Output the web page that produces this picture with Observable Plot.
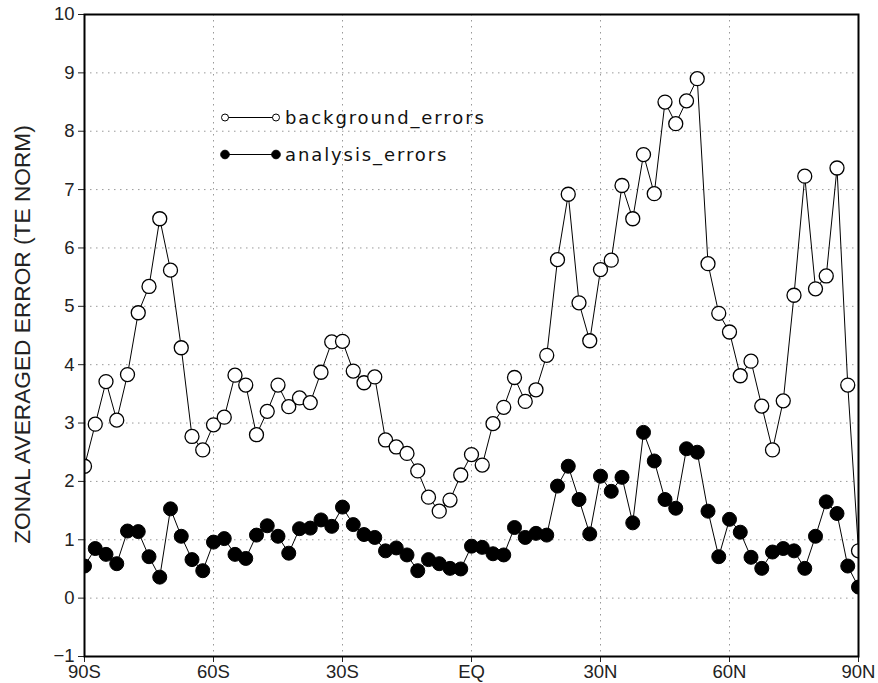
<!DOCTYPE html>
<html><head><meta charset="utf-8">
<script src="https://cdn.jsdelivr.net/npm/d3@7"></script>
<script src="https://cdn.jsdelivr.net/npm/@observablehq/plot@0.6"></script>
<style>body{margin:0;background:#fff}#wrap{position:relative;width:878px;height:683px}</style>
</head><body><div id="wrap"></div>
<script>
const latitudes = [-90,-87.5,-85,-82.5,-80,-77.5,-75,-72.5,-70,-67.5,-65,-62.5,-60,-57.5,-55,-52.5,-50,-47.5,-45,-42.5,-40,-37.5,-35,-32.5,-30,-27.5,-25,-22.5,-20,-17.5,-15,-12.5,-10,-7.5,-5,-2.5,0,2.5,5,7.5,10,12.5,15,17.5,20,22.5,25,27.5,30,32.5,35,37.5,40,42.5,45,47.5,50,52.5,55,57.5,60,62.5,65,67.5,70,72.5,75,77.5,80,82.5,85,87.5,90];
const backgroundErrors = [2.26,2.98,3.71,3.05,3.83,4.89,5.34,6.5,5.62,4.29,2.77,2.54,2.97,3.1,3.82,3.65,2.8,3.2,3.65,3.28,3.43,3.35,3.87,4.39,4.4,3.89,3.69,3.79,2.71,2.59,2.48,2.18,1.73,1.49,1.68,2.11,2.46,2.28,2.99,3.27,3.78,3.37,3.57,4.16,5.8,6.92,5.06,4.41,5.63,5.79,7.07,6.5,7.6,6.93,8.5,8.13,8.52,8.9,5.73,4.88,4.56,3.81,4.06,3.29,2.54,3.38,5.19,7.23,5.3,5.52,7.37,3.65,0.81];
const analysisErrors = [0.55,0.85,0.75,0.59,1.15,1.14,0.71,0.36,1.53,1.06,0.66,0.47,0.96,1.02,0.75,0.68,1.08,1.24,1.06,0.77,1.19,1.2,1.34,1.23,1.56,1.26,1.09,1.04,0.81,0.86,0.74,0.47,0.66,0.59,0.51,0.5,0.89,0.87,0.76,0.74,1.21,1.04,1.11,1.08,1.92,2.26,1.69,1.1,2.09,1.83,2.07,1.29,2.84,2.35,1.69,1.54,2.56,2.5,1.49,0.71,1.35,1.13,0.7,0.51,0.79,0.85,0.81,0.51,1.06,1.65,1.45,0.55,0.19];
const xTicks = [-90,-60,-30,0,30,60,90];
const xTickLabels = ["90S","60S","30S","EQ","30N","60N","90N"];
const yTicks = [-1,0,1,2,3,4,5,6,7,8,9,10];
const seriesNames = ["background_errors","analysis_errors"];
const yTitle = "ZONAL AVERAGED ERROR (TE NORM)";

const bg = latitudes.map((x,i)=>({x, y: backgroundErrors[i]}));
const an = latitudes.map((x,i)=>({x, y: analysisErrors[i]}));

const chart = Plot.plot({
  width: 878, height: 683,
  marginLeft: 84, marginRight: 20, marginTop: 14, marginBottom: 27,
  style: {fontFamily: "Liberation Sans, Arial, sans-serif", fontSize: "18px", color: "#222", background: "#fff"},
  x: {domain: [-90, 90]},
  y: {domain: [-1, 10]},
  marks: [
    Plot.gridX(xTicks.slice(1,-1), {stroke: "#999", strokeOpacity: 1, strokeDasharray: "1.5,4.5"}),
    Plot.gridY(yTicks.slice(1,-1), {stroke: "#999", strokeOpacity: 1, strokeDasharray: "1.5,4.5"}),
    Plot.axisX(xTicks, {tickFormat: d => xTickLabels[xTicks.indexOf(d)], tickSize: 6, tickPadding: 2, label: null, fontSize: 18.5}),
    Plot.axisY(yTicks, {tickFormat: d => d < 0 ? "\u2212" + (-d) : String(d), tickSize: 6, tickPadding: 4, label: null, fontSize: 18.5}),
    Plot.line(bg, {x: "x", y: "y", stroke: "#000", strokeWidth: 1, clip: "frame"}),
    Plot.line(an, {x: "x", y: "y", stroke: "#000", strokeWidth: 1, clip: "frame"}),
    Plot.dot(an, {x: "x", y: "y", r: 7, fill: "#000", stroke: "#000", strokeWidth: 1, clip: "frame"}),
    Plot.dot(bg, {x: "x", y: "y", r: 7, fill: "#fff", stroke: "#000", strokeWidth: 1.3, clip: "frame"}),
    Plot.frame({stroke: "#000", strokeWidth: 2}),
    Plot.text([yTitle], {frameAnchor: "left", textAnchor: "middle", dx: -62, dy: -1, rotate: -90, fontSize: 22.7, fill: "#222", ariaLabel: "ytitle"})
  ]
});
document.getElementById("wrap").appendChild(chart);
const svg = d3.select(chart);

// legend
const leg = svg.append("g").attr("font-family", "DejaVu Sans, sans-serif").attr("font-size", 18).attr("text-anchor", "start");
const rows = [{name: seriesNames[0], y: 117.5, fill: "#fff", r: 3.5}, {name: seriesNames[1], y: 154.5, fill: "#000", r: 4.3}];
rows.forEach(rw => {
  leg.append("line").attr("x1", 226).attr("x2", 275).attr("y1", rw.y).attr("y2", rw.y).attr("stroke", "#000").attr("stroke-width", 1);
  [225, 276].forEach(cx => leg.append("circle").attr("cx", cx).attr("cy", rw.y).attr("r", rw.r).attr("fill", rw.fill).attr("stroke", "#000").attr("stroke-width", 1));
  leg.append("text").attr("x", 285).attr("y", rw.y + 6.5).attr("fill", "#111").attr("letter-spacing", "1.9px").text(rw.name);
});
</script></body></html>
